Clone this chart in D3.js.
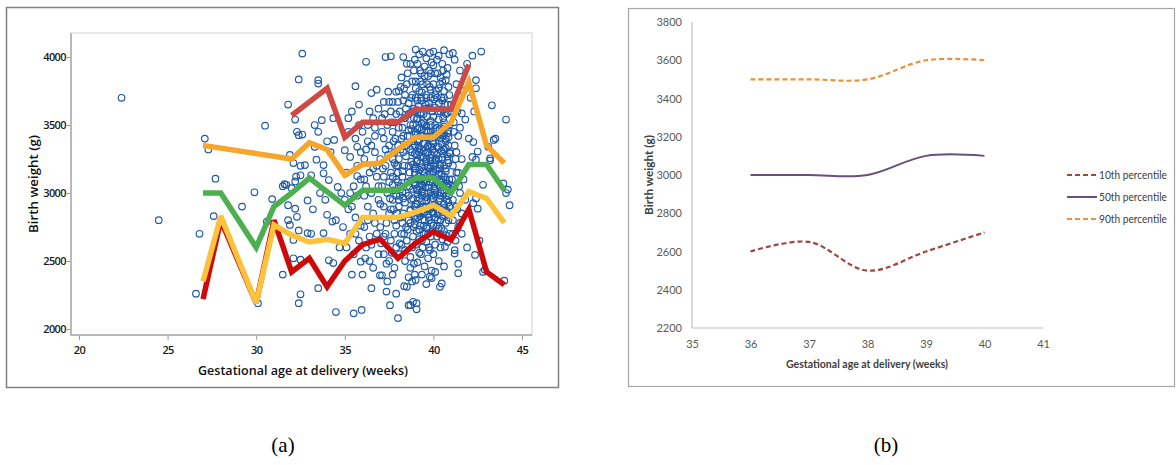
<!DOCTYPE html>
<html><head><meta charset="utf-8">
<script src="https://cdn.jsdelivr.net/npm/d3@7"></script>
<style>body{margin:0;background:#fff}</style>
</head><body><svg id="c" width="1176" height="465"></svg>
<script>
// ---------- Panel (a) data ----------
const ageTicksA = [20, 25, 30, 35, 40, 45];
const wtTicksA = [2000, 2500, 3000, 3500, 4000];

const weeksMain = [27,28,30,31,32,33,34,35,36,37,38,39,40,41,42,43,44];
const p50A = [3000,3000,2600,2900,3000,3110,3010,2910,3020,3020,3020,3110,3110,3000,3210,3210,3020];
const pLowA = [2220,2800,2190,2800,2420,2520,2310,2500,2620,2660,2520,2630,2715,2655,2880,2420,2325];
const pMidLowA = [2350,2830,2190,2765,2690,2640,2660,2630,2820,2820,2820,2860,2910,2830,3010,2960,2780];
const weeks90 = [27,32,33,34,35,36,37,38,39,40,41,42,43,44];
const p90A = [3350,3250,3370,3320,3130,3210,3220,3320,3410,3410,3520,3815,3350,3220];
const weeksTop = [32,33,34,35,36,37,38,39,40,41,42];
const pTopA = [3570,3670,3770,3410,3520,3520,3520,3615,3615,3615,3945];

const ptsEarly = [[22.4,3700],[24.5,2800],[26.8,2700],[26.6,2260],[27.1,3400],[27.3,3320],[27.7,3105],[27.6,2830],[29.2,2900],[29.9,3005],[30.1,2190],[30.5,3495],[30.6,2790],[30.9,2955],[31.5,2400],[31.5,3050],[31.6,3065],[31.8,2910],[31.8,2800],[31.8,3650],[31.9,3280],[31.9,2765]];
const pts32 = [[32.2,3540],[32.3,3450],[32.4,3425],[32.6,3430],[32.6,4025],[32.4,3835],[32.1,3220],[32.5,3200],[32.75,3205],[32.25,3120],[32.5,3130],[32.2,3085],[32.2,2885],[32.4,2725],[32.1,2655],[32.1,2520],[32.5,2510],[32.5,2255],[32.4,2190],[32.9,2705],[32.3,2825],[32.0,3035],[31.7,3060],[32.9,2945]];
const pts33 = [[33.5,3830],[33.5,3805],[33.3,3500],[33.5,3450],[33.7,3535],[33.3,3340],[33.4,3245],[33.8,3145],[33.1,3130],[33.8,3205],[34.1,3095],[33.6,3000],[34.0,2840],[34.3,2790],[34.5,2800],[33.8,2705],[33.1,2700],[34.1,2505],[34.35,2485],[33.5,2300],[34.0,3380],[34.4,3390],[34.35,3550],[34.6,3045],[34.8,3000],[34.5,2125],[33.9,2950],[34.2,3300],[33.2,2880],[34.7,2600],[34.9,2750]];
const pts35 = [[35.6,3785],[35.0,3315],[35.3,3265],[35.7,3340],[35.5,2115],[35.95,2140],[35.2,3450],[35.4,3600],[35.8,3500],[35.1,3150],[35.5,3050],[35.7,2980],[35.2,2880],[35.6,2820],[35.9,2760],[35.3,2700],[35.8,2650],[35.1,2600],[35.5,2550],[35.9,2495],[35.4,2400],[35.7,3200],[35.9,3100],[35.3,3000],[35.6,3400],[35.9,3300],[35.0,2950],[35.8,3650],[35.4,2900],[35.7,3125],[35.2,3550],[35.6,2700]];
const pts36 = [[36.2,3965],[36.5,3735],[36.8,3760],[36.5,2300],[36.15,2520],[36.0,3450],[36.3,3380],[36.6,3550],[36.9,3620],[36.1,3250],[36.4,3150],[36.7,3300],[36.2,3050],[36.5,3000],[36.8,3120],[36.3,2900],[36.6,2850],[36.9,2950],[36.1,2750],[36.4,2680],[36.7,2780],[36.2,2600],[36.5,2620],[36.9,2550],[36.0,2400],[36.6,2450],[36.98,2395],[36.3,3500],[36.7,3420],[36.4,3600],[36.8,3200],[36.1,2980],[36.5,3350],[36.9,3050],[36.3,2800],[36.6,3180],[36.8,2700],[36.2,3320],[36.4,2500],[36.7,3480],[36.1,3100]];
const pts37 = [[37.3,4000],[37.6,4005],[37.45,3745],[37.9,3745],[37.2,3670],[37.5,3670],[37.7,3670],[38.0,3670],[37.1,2395],[37.35,2275],[37.9,2260],[37.55,2175],[37.1,3550],[37.4,3500],[37.7,3450],[37.9,3580],[37.2,3400],[37.5,3350],[37.8,3300],[37.0,3250],[37.3,3200],[37.6,3150],[37.9,3100],[37.1,3050],[37.4,3000],[37.7,2950],[37.2,2900],[37.5,2850],[37.8,2800],[37.0,2750],[37.3,2700],[37.6,2650],[37.9,2600],[37.2,2550],[37.5,2500],[37.8,2450],[37.4,2350],[37.7,2400],[37.1,3450],[37.6,3600],[37.3,3320],[37.8,3220],[37.5,3080],[37.2,3120],[37.9,2980],[37.0,2920],[37.6,2880],[37.35,2780],[37.8,2700],[37.05,2630],[37.65,2560],[37.25,3580],[37.85,3400],[37.45,3280],[37.15,3180],[37.75,3020],[37.55,2960],[37.95,2850],[37.35,2480],[37.6,3520],[37.9,3200],[37.2,2680]];
const pts38 = [[38.35,3770],[38.6,3660],[38.3,4000],[38.7,3950],[38.9,3900],[38.2,3850],[38.5,3800],[38.8,3720],[38.1,3600],[38.4,3550],[38.7,3500],[38.95,3450],[38.2,3400],[38.5,3350],[38.8,3300],[38.05,3250],[38.35,3200],[38.65,3150],[38.9,3100],[38.15,3050],[38.45,3000],[38.75,2950],[38.05,2900],[38.3,2850],[38.6,2800],[38.9,2750],[38.2,2700],[38.5,2650],[38.8,2600],[38.1,2550],[38.4,2500],[38.7,2450],[38.95,2400],[38.35,2315],[38.7,2175],[39.05,2190],[39.05,2145],[38.0,2080],[38.6,2175],[38.85,2200],[38.5,2310],[38.25,3480],[38.55,3420],[38.85,3380],[38.15,3320],[38.45,3270],[38.75,3230],[38.95,3180],[38.25,3120],[38.55,3080],[38.85,3030],[38.1,2980],[38.4,2930],[38.7,2880],[38.95,2830],[38.25,2780],[38.55,2730],[38.85,2680],[38.1,2630],[38.4,2580],[38.7,2530],[38.9,2480],[38.3,3680],[38.6,3580],[38.9,3620],[38.4,3720],[38.8,3820],[38.65,3050],[38.35,3550],[38.9,3550],[38.0,3150],[38.2,2620],[38.6,2380],[38.8,2350],[38.45,2750],[38.75,3470],[38.15,3780],[38.55,3880],[38.95,3980]];
const pts39 = [[39.0,4055],[39.2,4020],[39.4,4040],[39.6,3990],[39.8,4030],[39.1,3950],[39.5,3930],[39.9,3960],[39.3,3880],[39.7,3860],[39.0,3820],[39.4,3800],[39.8,3780],[39.2,3750],[39.6,3720],[39.0,3700],[39.35,3680],[39.75,3660],[39.15,3640],[39.55,3620],[39.95,3600],[39.25,3580],[39.65,3560],[39.05,3540],[39.45,3520],[39.85,3500],[39.2,3480],[39.6,3460],[39.0,3440],[39.4,3420],[39.8,3400],[39.1,3380],[39.5,3360],[39.9,3340],[39.3,3320],[39.7,3300],[39.05,3280],[39.45,3260],[39.85,3240],[39.25,3220],[39.65,3200],[39.0,3180],[39.4,3160],[39.8,3140],[39.15,3120],[39.55,3100],[39.95,3080],[39.35,3060],[39.75,3040],[39.1,3020],[39.5,3000],[39.9,2980],[39.2,2960],[39.6,2940],[39.0,2920],[39.4,2900],[39.8,2880],[39.3,2860],[39.7,2840],[39.1,2820],[39.5,2800],[39.9,2780],[39.25,2760],[39.65,2740],[39.05,2720],[39.45,2700],[39.85,2680],[39.2,2660],[39.6,2640],[39.0,2620],[39.4,2600],[39.8,2580],[39.3,2550],[39.7,2520],[39.1,2490],[39.5,2460],[39.9,2430],[39.35,2400],[39.8,2385],[39.0,2360],[39.6,2330],[39.3,3700],[39.7,3620],[39.5,3500],[39.3,3420],[39.7,3350],[39.2,3300],[39.6,3250],[39.8,3180],[39.3,3100],[39.7,3000],[39.2,3050],[39.55,2900],[39.35,2980],[39.75,2800],[39.15,2850],[39.55,2700],[39.35,2650],[39.75,2600],[39.15,3350],[39.95,3420],[39.45,3580],[39.85,3700],[39.65,3800],[39.25,3900],[39.85,3880],[39.1,3550],[39.5,3150],[39.9,3280],[39.7,3450],[39.4,3050],[39.6,2750],[39.2,2560]];
const pts40 = [[40.0,4040],[40.3,4010],[40.6,4050],[40.9,4020],[40.2,3980],[40.5,3950],[40.8,3920],[40.1,3880],[40.4,3850],[40.7,3830],[40.0,3800],[40.3,3770],[40.6,3750],[40.9,3720],[40.2,3700],[40.5,3680],[40.8,3650],[40.1,3630],[40.4,3600],[40.7,3580],[40.0,3560],[40.3,3540],[40.6,3520],[40.9,3500],[40.2,3480],[40.5,3460],[40.8,3440],[40.1,3420],[40.4,3400],[40.7,3380],[40.0,3360],[40.3,3340],[40.6,3320],[40.9,3300],[40.2,3280],[40.5,3260],[40.8,3240],[40.1,3220],[40.4,3200],[40.7,3180],[40.0,3160],[40.3,3140],[40.6,3120],[40.9,3100],[40.2,3080],[40.5,3060],[40.8,3040],[40.1,3020],[40.4,3000],[40.7,2980],[40.0,2960],[40.3,2940],[40.6,2920],[40.9,2900],[40.2,2880],[40.5,2860],[40.8,2840],[40.1,2820],[40.4,2800],[40.7,2780],[40.0,2760],[40.3,2740],[40.6,2720],[40.9,2700],[40.2,2680],[40.5,2660],[40.8,2640],[40.1,2620],[40.4,2600],[40.65,2605],[40.0,2550],[40.3,2500],[40.6,2460],[40.1,2420],[40.37,2310],[40.47,2335],[39.9,2375],[40.25,3600],[40.55,3420],[40.15,3250],[40.45,3100],[40.75,2950],[40.35,2700],[40.05,3050],[40.85,3350],[40.65,3650],[40.15,3750],[40.55,3900],[40.35,3180],[40.75,3050],[40.25,2850],[40.55,3550],[40.95,3600],[40.45,3700],[40.85,2800]];
const ptsCore = [[39.05,3610],[39.3,3590],[39.55,3650],[39.8,3630],[40.05,3690],[40.3,3660],[40.55,3610],[40.8,3590],[39.1,3470],[39.35,3510],[39.6,3490],[39.85,3530],[40.1,3500],[40.35,3470],[40.6,3490],[40.85,3460],[38.95,3350],[39.2,3390],[39.45,3370],[39.7,3410],[39.95,3380],[40.2,3410],[40.45,3360],[40.7,3400],[39.05,3230],[39.3,3270],[39.55,3290],[39.8,3260],[40.05,3300],[40.3,3250],[40.55,3290],[40.8,3270],[38.95,3150],[39.2,3170],[39.45,3130],[39.7,3190],[39.95,3150],[40.2,3170],[40.45,3140],[40.7,3160],[39.05,3030],[39.3,3070],[39.55,3040],[39.8,3080],[40.05,3030],[40.3,3060],[40.55,3020],[40.8,3070],[39.1,2920],[39.35,2940],[39.6,2900],[39.85,2950],[40.1,2910],[40.35,2960],[40.6,2890],[40.85,2930],[39.0,2810],[39.25,2830],[39.5,2860],[39.75,2820],[40.0,2850],[40.25,2800],[40.5,2830],[40.75,2870]];
const ptsCore2 = [[38.6,3460],[38.85,3500],[39.1,3430],[39.35,3470],[39.6,3410],[39.85,3450],[40.1,3470],[40.35,3430],[40.6,3440],[40.85,3410],[38.7,3320],[38.95,3290],[39.2,3330],[39.45,3310],[39.7,3340],[39.95,3320],[40.2,3340],[40.45,3310],[40.7,3330],[40.95,3290],[38.6,3200],[38.85,3210],[39.1,3240],[39.35,3190],[39.6,3230],[39.85,3200],[40.1,3240],[40.35,3210],[40.6,3200],[40.85,3220],[38.7,3090],[38.95,3060],[39.2,3100],[39.45,3080],[39.7,3110],[39.95,3100],[40.2,3110],[40.45,3080],[40.7,3100],[40.95,3060],[38.6,2980],[38.85,2960],[39.1,2990],[39.35,3010],[39.6,2970],[39.85,3010],[40.1,2990],[40.35,2980],[40.6,3000],[40.85,2980],[38.7,2870],[38.95,2900],[39.2,2880],[39.45,2850],[39.7,2890],[39.95,2860],[40.2,2900],[40.45,2880],[40.7,2860],[38.6,3580],[38.85,3600],[39.1,3680],[39.35,3740],[39.6,3700],[39.85,3760],[40.1,3720],[40.35,3800],[40.6,3700],[40.85,3780],[38.75,3700],[39.0,3770],[39.25,3820],[39.5,3860],[39.75,3900],[40.0,3940],[40.25,3880],[40.5,3820],[40.75,3870],[38.7,2780],[38.95,2770],[39.2,2730],[39.45,2760],[39.7,2700],[39.95,2720],[40.2,2760],[40.45,2740],[40.7,2690],[37.8,3520],[38.05,3480],[38.3,3420],[37.75,3380],[38.0,3350],[38.3,3300],[37.7,3250],[38.0,3200],[38.25,3160],[37.7,3120],[38.0,3080],[38.25,3010],[37.7,3060],[38.05,2950],[38.3,2960],[37.75,2880],[38.15,2820],[38.35,2700],[37.9,2760],[38.45,3620],[38.05,3750],[38.5,3950],[41.15,3520],[41.35,3600],[41.25,3250],[41.45,3050],[41.3,3150],[41.1,2950],[41.5,2780],[41.35,2880]];
const pts41 = [[41.2,3980],[41.1,4030],[41.6,3585],[41.8,3540],[41.5,3480],[41.4,3420],[41.2,3350],[41.3,3300],[41.6,3250],[41.1,3200],[41.4,3150],[41.7,3100],[41.2,3050],[41.5,3000],[41.8,2950],[41.3,2900],[41.6,2850],[41.1,2800],[41.4,2750],[41.1,2700],[41.2,2580],[41.2,2555],[41.4,2480],[41.4,2410],[41.7,3750],[41.3,3800],[41.5,3900],[41.9,3950],[41.0,3650],[41.15,3450],[41.05,3100],[41.25,2650],[41.6,2700],[41.9,2600],[42.0,3400]];
const ptsLate = [[42.4,3830],[42.4,3770],[42.25,3375],[42.5,3305],[42.2,3265],[42.4,3245],[42.25,2925],[42.4,2960],[42.5,2885],[42.35,2545],[42.8,2420],[42.9,2435],[42.8,3060],[43.3,3645],[43.5,3400],[43.4,3390],[43.1,3340],[43.2,3240],[43.2,3255],[43.95,3070],[44.2,3025],[44.1,3000],[44.3,2910],[44.1,3540],[44.0,2355],[42.7,4040],[42.2,4010],[42.1,3700],[42.3,3600],[42.6,2650]];

// ---------- Panel (b) data ----------
const ageTicksB = [35, 36, 37, 38, 39, 40, 41];
const wtTicksB = [2200, 2400, 2600, 2800, 3000, 3200, 3400, 3600, 3800];
const weeksB = [36, 37, 38, 39, 40];
const p10B = [2600, 2650, 2500, 2600, 2700];
const p50B = [3000, 3000, 3000, 3100, 3100];
const p90B = [3500, 3500, 3500, 3600, 3600];
const legendNames = ["10th percentile", "50th percentile", "90th percentile"];

const svg = d3.select('#c');
const fmt = d3.format('d');

// ================= Panel (a) =================
svg.append('rect').attr('x',6.5).attr('y',7.5).attr('width',552).attr('height',380)
  .attr('fill','#fff').attr('stroke','#808080').attr('stroke-width',1.5);

const xA = d3.scaleLinear().domain([20,45]).range([79,522]);
const yA = d3.scaleLinear().domain([2000,4000]).range([329,57]);

svg.append('rect').attr('x',71).attr('y',33).attr('width',461).attr('height',302)
  .attr('fill','#fff').attr('stroke','#cfcfcf').attr('stroke-width',1);
svg.append('line').attr('x1',71).attr('x2',71).attr('y1',33).attr('y2',336).attr('stroke','#b8b8b8').attr('stroke-width',2);
svg.append('line').attr('x1',70).attr('x2',532).attr('y1',335).attr('y2',335).attr('stroke','#b8b8b8').attr('stroke-width',2);

const fontA = "'Open Sans', sans-serif";
const gx = svg.append('g').attr('transform','translate(0,336)')
  .call(d3.axisBottom(xA).tickValues(ageTicksA).tickFormat(fmt).tickSize(4).tickPadding(6));
const gy = svg.append('g').attr('transform','translate(70,0)')
  .call(d3.axisLeft(yA).tickValues(wtTicksA).tickFormat(fmt).tickSize(3).tickPadding(1));
[gx, gy].forEach(g => {
  g.select('.domain').remove();
  g.selectAll('.tick line').attr('stroke','#999');
  g.selectAll('.tick text').attr('fill','#1a1a1a').style('font-family',fontA)
    .style('font-weight','600').style('font-size','11px').style('letter-spacing','-0.6px');
});

svg.append('text').attr('x',303).attr('y',375).attr('text-anchor','middle')
  .attr('textLength',210).attr('lengthAdjust','spacingAndGlyphs')
  .style('font-family',fontA).style('font-weight','600').style('font-size','13px').attr('fill','#111')
  .text('Gestational age at delivery (weeks)');
svg.append('text').attr('transform','translate(38,184) rotate(-90)').attr('text-anchor','middle')
  .attr('textLength',98).attr('lengthAdjust','spacingAndGlyphs')
  .style('font-family',fontA).style('font-weight','600').style('font-size','13px').attr('fill','#111')
  .text('Birth weight (g)');

const allPts = [].concat(ptsEarly, pts32, pts33, pts35, pts36, pts37, pts38, pts39, pts40, ptsCore, ptsCore2, pts41, ptsLate);
svg.append('g').selectAll('circle').data(allPts).join('circle')
  .attr('cx', d => xA(d[0])).attr('cy', d => yA(d[1])).attr('r', 3.3)
  .attr('fill','none').attr('stroke','#1f5aa8').attr('stroke-width',1.15);

const lineA = d3.line().x(d => xA(d[0])).y(d => yA(d[1]));
const seriesA = [
  {w: weeksTop, v: pTopA, c: '#cf4a43'},
  {w: weeks90, v: p90A, c: '#f6a62a'},
  {w: weeksMain, v: p50A, c: '#4caf50'},
  {w: weeksMain, v: pLowA, c: '#cc0a0a'},
  {w: weeksMain, v: pMidLowA, c: '#fbc23b'}
];
seriesA.forEach(s => {
  svg.append('path').attr('d', lineA(d3.zip(s.w, s.v)))
    .attr('fill','none').attr('stroke', s.c).attr('stroke-width',5.5)
    .attr('stroke-linejoin','miter').attr('stroke-miterlimit',3);
});

// ================= Panel (b) =================
svg.append('rect').attr('x',628.5).attr('y',8.5).attr('width',546).attr('height',378)
  .attr('fill','#fff').attr('stroke','#a6a6a6').attr('stroke-width',1.2);

const xB = d3.scaleLinear().domain([35,41]).range([692,1043]);
const yB = d3.scaleLinear().domain([2200,3800]).range([328,22]);
const fontB = "Lato, 'Open Sans', sans-serif";

svg.append('line').attr('x1',692).attr('x2',692).attr('y1',22).attr('y2',328).attr('stroke','#bfbfbf').attr('stroke-width',1.2);
svg.append('line').attr('x1',692).attr('x2',1043).attr('y1',328).attr('y2',328).attr('stroke','#bfbfbf').attr('stroke-width',1.2);

const gxB = svg.append('g').attr('transform','translate(0,328)')
  .call(d3.axisBottom(xB).tickValues(ageTicksB).tickFormat(fmt).tickSize(0).tickPadding(12));
const gyB = svg.append('g').attr('transform','translate(692,0)')
  .call(d3.axisLeft(yB).tickValues(wtTicksB).tickFormat(fmt).tickSize(0).tickPadding(10));
[gxB, gyB].forEach(g => {
  g.select('.domain').remove();
  g.selectAll('.tick text').attr('fill','#595959').style('font-family',fontB).style('font-size','11px');
});

svg.append('text').attr('x',867).attr('y',368).attr('text-anchor','middle')
  .attr('textLength',162).attr('lengthAdjust','spacingAndGlyphs')
  .style('font-family',fontB).style('font-weight','700').style('font-size','10.5px').attr('fill','#404040')
  .text('Gestational age at delivery (weeks)');
svg.append('text').attr('transform','translate(653,175) rotate(-90)').attr('text-anchor','middle')
  .attr('textLength',80).attr('lengthAdjust','spacingAndGlyphs')
  .style('font-family',fontB).style('font-weight','700').style('font-size','10.5px').attr('fill','#404040')
  .text('Birth weight (g)');

const lineB = d3.line().x(d => xB(d[0])).y(d => yB(d[1])).curve(d3.curveCatmullRom.alpha(0.5));
const seriesB = [
  {v: p10B, c: '#a0463f', dash: '5,3', w: 2.2},
  {v: p50B, c: '#65507e', dash: null, w: 2},
  {v: p90B, c: '#e8923a', dash: '5,3', w: 2.2}
];
seriesB.forEach((s, i) => {
  svg.append('path').attr('d', lineB(d3.zip(weeksB, s.v)))
    .attr('fill','none').attr('stroke', s.c).attr('stroke-width', s.w)
    .attr('stroke-dasharray', s.dash);
  const ly = 175 + i * 22;
  svg.append('line').attr('x1',1067).attr('x2',1097).attr('y1',ly).attr('y2',ly)
    .attr('stroke', s.c).attr('stroke-width', s.w).attr('stroke-dasharray', s.dash);
  svg.append('text').attr('x',1099).attr('y',ly + 4).attr('fill','#404040')
    .attr('textLength',68).attr('lengthAdjust','spacingAndGlyphs')
    .style('font-family',fontB).style('font-size','11px').text(legendNames[i]);
});

// ================= Captions =================
svg.append('text').attr('x',283).attr('y',452).attr('text-anchor','middle')
  .style('font-family',"'Liberation Serif', 'Times New Roman', serif").style('font-size','21px').attr('fill','#000').text('(a)');
svg.append('text').attr('x',886).attr('y',452).attr('text-anchor','middle')
  .style('font-family',"'Liberation Serif', 'Times New Roman', serif").style('font-size','21px').attr('fill','#000').text('(b)');
</script></body></html>
